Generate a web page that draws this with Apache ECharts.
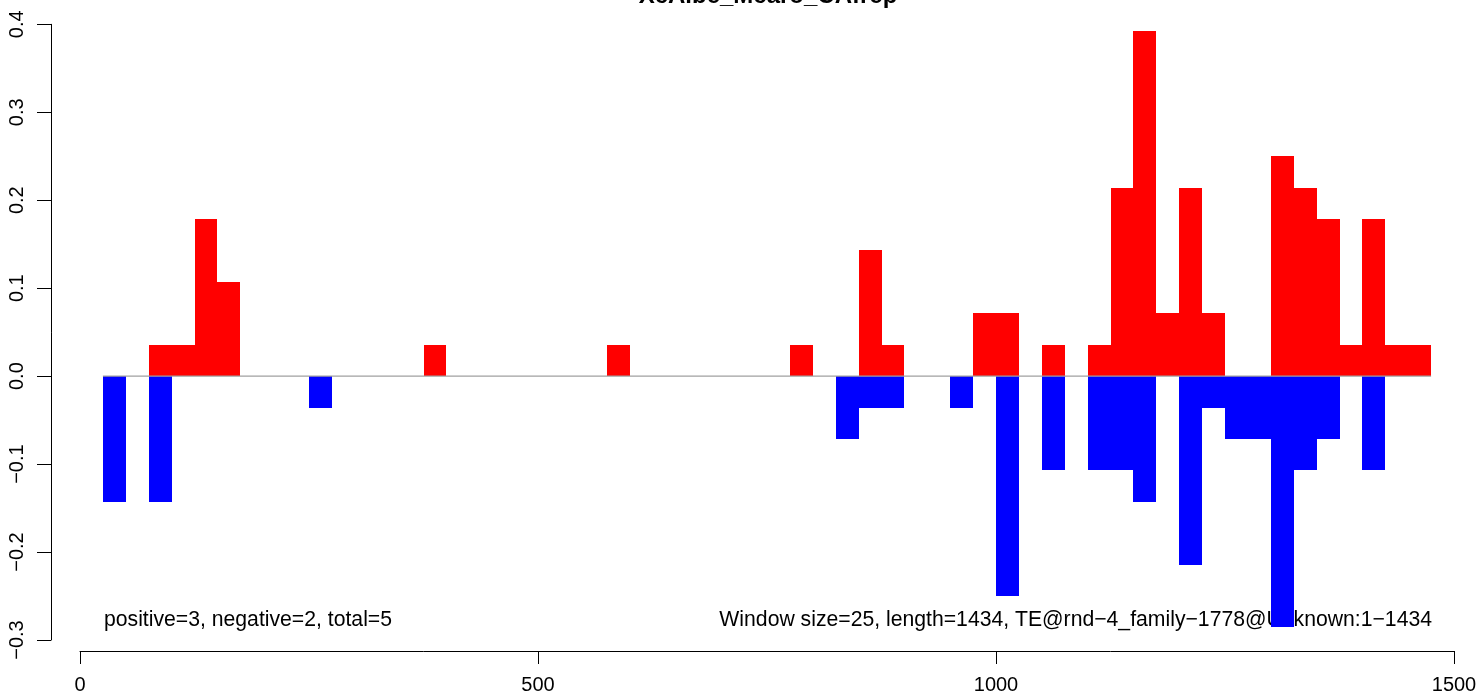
<!DOCTYPE html>
<html>
<head>
<meta charset="utf-8">
<script src="https://cdn.jsdelivr.net/npm/echarts@6/dist/echarts.min.js"></script>
<style>
html,body{margin:0;padding:0;background:#fff;}
#chart{width:1481px;height:699px;}
</style>
</head>
<body>
<div id="chart"></div>
<script>
// ---- data ----
const titleText = "XcAlbe_Mcaro_CAfrep";
const windowSize = 25;
const posStarts = [75, 100, 125, 150, 375, 575, 775, 850, 875, 975, 1000, 1050, 1100, 1125, 1150, 1175, 1200, 1225, 1300, 1325, 1350, 1375, 1400, 1425, 1450];
const posValues = [0.0357, 0.0357, 0.1786, 0.1071, 0.0357, 0.0357, 0.0357, 0.1429, 0.0357, 0.0714, 0.0714, 0.0357, 0.0357, 0.2143, 0.3929, 0.0714, 0.2143, 0.0714, 0.25, 0.2143, 0.1786, 0.0357, 0.1786, 0.0357, 0.0357];
const negStarts = [25, 75, 250, 825, 850, 875, 950, 1000, 1050, 1100, 1125, 1150, 1200, 1225, 1250, 1275, 1300, 1325, 1350, 1400];
const negValues = [-0.1429, -0.1429, -0.0357, -0.0714, -0.0357, -0.0357, -0.0357, -0.25, -0.1071, -0.1071, -0.1071, -0.1429, -0.2143, -0.0357, -0.0714, -0.0714, -0.2857, -0.1071, -0.0714, -0.1071];
const baselineRange = [25, 1475];
const xTicks = [0, 500, 1000, 1500];
const yTicks = [-0.3, -0.2, -0.1, 0.0, 0.1, 0.2, 0.3, 0.4];
const leftNote = "positive=3, negative=2, total=5";
const rightNote = "Window size=25, length=1434, TE@rnd\u22124_family\u22121778@Unknown:1\u22121434";

// ---- chart ----
const chart = echarts.init(document.getElementById('chart'), null, {renderer: 'canvas'});
const FONT = '"Liberation Sans", Arial, Helvetica, sans-serif';

function barData(starts, values) {
  return starts.map((s, i) => [s, s + windowSize, values[i]]);
}
function renderBar(params, api) {
  const p0 = api.coord([api.value(0), 0]);
  const p1 = api.coord([api.value(1), api.value(2)]);
  const x0 = Math.round(p0[0]), x1 = Math.round(p1[0]);
  const y0 = Math.round(Math.min(p0[1], p1[1])), y1 = Math.round(Math.max(p0[1], p1[1]));
  return {
    type: 'rect',
    shape: {x: x0, y: y0, width: x1 - x0, height: y1 - y0},
    style: {fill: api.visual('color')}
  };
}

const option = {
  backgroundColor: '#ffffff',
  animation: false,
  grid: {left: 80, right: 27, top: 24.3, bottom: 59},
  xAxis: {
    type: 'value',
    min: xTicks[0],
    max: xTicks[xTicks.length - 1],
    interval: xTicks[1] - xTicks[0],
    offset: 11,
    axisLine: {show: true, onZero: false, lineStyle: {color: '#000', width: 1}},
    axisTick: {show: true, length: 13, lineStyle: {color: '#000', width: 1}},
    axisLabel: {color: '#000', fontSize: 20, fontFamily: FONT, margin: 24, formatter: v => String(v)},
    splitLine: {show: false}
  },
  yAxis: {
    type: 'value',
    min: yTicks[0],
    max: yTicks[yTicks.length - 1],
    interval: 0.1,
    offset: 29,
    axisLine: {show: true, onZero: false, lineStyle: {color: '#000', width: 1}},
    axisTick: {show: true, length: 14, lineStyle: {color: '#000', width: 1}},
    axisLabel: {
      color: '#000', fontSize: 20, fontFamily: FONT, margin: 24, rotate: 90,
      formatter: v => (Math.round(v * 10) / 10).toFixed(1).replace('-', '\u2212')
    },
    splitLine: {show: false}
  },
  series: [
    {
      name: 'positive', type: 'custom', renderItem: renderBar,
      itemStyle: {color: '#FF0000'},
      data: barData(posStarts, posValues), encode: {x: [0, 1], y: 2}, z: 2
    },
    {
      name: 'negative', type: 'custom', renderItem: renderBar,
      itemStyle: {color: '#0000FF'},
      data: barData(negStarts, negValues), encode: {x: [0, 1], y: 2}, z: 2
    },
    {
      name: 'zero', type: 'line', symbol: 'none', silent: true,
      data: [[baselineRange[0], 0], [baselineRange[1], 0]],
      lineStyle: {color: '#A0A0A0', width: 1.4}, z: 3
    }
  ],
  graphic: [
    {
      type: 'text', x: 768, y: 8, silent: true,
      style: {text: titleText, fill: '#000', font: 'bold 24px ' + FONT, textAlign: 'center', textVerticalAlign: 'bottom'}
    },
    {
      type: 'text', x: 104, y: 620, silent: true,
      style: {text: leftNote, fill: '#000', font: '21.2px ' + FONT, textAlign: 'left', textVerticalAlign: 'middle'}
    },
    {
      type: 'text', x: 1432, y: 620, silent: true,
      style: {text: rightNote, fill: '#000', font: '21.2px ' + FONT, textAlign: 'right', textVerticalAlign: 'middle'}
    }
  ]
};
chart.setOption(option);
</script>
</body>
</html>
